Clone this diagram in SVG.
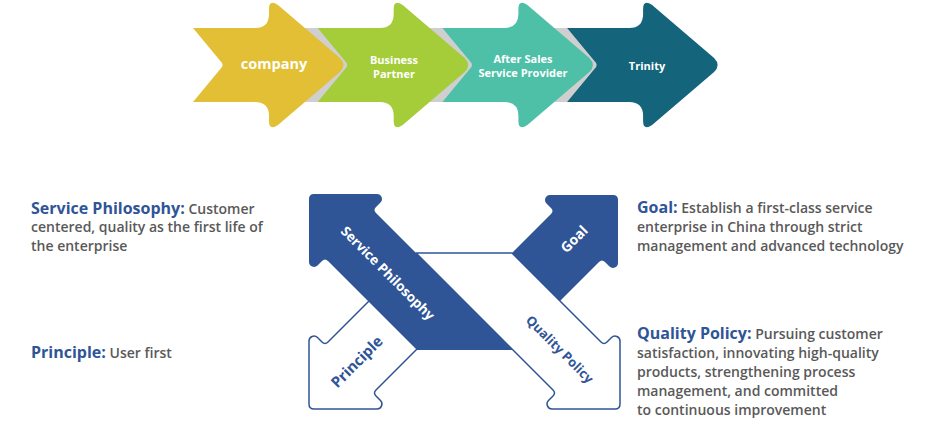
<svg xmlns="http://www.w3.org/2000/svg" width="940" height="436" viewBox="0 0 940 436">
<defs>
<style>
.lbl{font-family:"Open Sans","Noto Sans","Liberation Sans",sans-serif;font-weight:700;fill:#ffffff;text-anchor:middle}
.dark{fill:#2F5597}
.light{fill:#ffffff;stroke:#2F5597;stroke-width:1.5;stroke-linejoin:round}
.h{font-family:"Open Sans","Noto Sans","Liberation Sans",sans-serif;font-weight:700;font-size:16px;fill:#2F5597}
.b{font-family:"Open Sans","Noto Sans","Liberation Sans",sans-serif;font-weight:600;font-size:14px;fill:#595959}
.al{font-family:"Open Sans","Noto Sans","Liberation Sans",sans-serif;font-weight:700;text-anchor:middle}
</style>
<path id="chev" d="M0,28 L62,28 Q76,28 76,14 L76,9 Q76,-1 85,5 L147,58 Q154,65 147,72 L85,125 Q76,131 76,121 L76,116 Q76,102 62,102 L0,102 L29,67 Q30,65 29,63 Z"/>
</defs>

<rect x="280" y="28" width="320" height="74" fill="#CFCFCF"/>

<g id="node-company">
<use href="#chev" x="193" fill="#E3BF36"/>
<text class="lbl" x="274" y="69" font-size="14.5">company</text>
</g>
<g id="node-business-partner">
<use href="#chev" x="317.7" fill="#A4CD39"/>
<text class="lbl" x="394" y="64" font-size="11">Business</text>
<text class="lbl" x="394" y="78" font-size="11">Partner</text>
</g>
<g id="node-after-sales">
<use href="#chev" x="442.4" fill="#4EC0A7"/>
<text class="lbl" x="523" y="63" font-size="11">After Sales</text>
<text class="lbl" x="523" y="77" font-size="11">Service Provider</text>
</g>
<g id="node-trinity">
<use href="#chev" x="567.1" fill="#14647C"/>
<text class="lbl" x="647" y="70" font-size="11">Trinity</text>
</g>

<g id="node-goal-arrow">
<path class="dark" transform="translate(618,195) scale(-1,1)" d="M203,155 L67,19 Q64,16 67,13 L71.5,8.5 A5,5 0 0 0 68,0 L5,0 Q0,0 0,5 L0,68 A5,5 0 0 0 8.5,71.5 L13,67 Q16,64 19,67 L107,155 Z"/>
<text class="al" fill="#ffffff" font-size="14" transform="translate(574,239) rotate(-45)" y="5">Goal</text>
</g>
<g id="node-principle-arrow">
<path class="light" transform="translate(309,409) scale(1,-1)" d="M131.5,83.5 L67,19 Q64,16 67,13 L71.5,8.5 A5,5 0 0 0 68,0 L5,0 Q0,0 0,5 L0,68 A5,5 0 0 0 8.5,71.5 L13,67 Q16,64 19,67 L83.5,131.5 Z"/>
<text class="al" fill="#2F5597" font-size="15" transform="translate(357,362) rotate(-45)" y="5">Principle</text>
</g>
<g id="node-service-philosophy-arrow">
<path class="dark" transform="translate(309,194)" d="M204,156 L67,19 Q64,16 67,13 L71.5,8.5 A5,5 0 0 0 68,0 L5,0 Q0,0 0,5 L0,68 A5,5 0 0 0 8.5,71.5 L13,67 Q16,64 19,67 L108,156 Z"/>
<text class="al" fill="#ffffff" font-size="13.5" transform="translate(388,273) rotate(45)" y="5">Service Philosophy</text>
</g>
<g id="node-quality-policy-arrow">
<path class="light" transform="translate(620,409) scale(-1,-1)" d="M204,156 L67,19 Q64,16 67,13 L71.5,8.5 A5,5 0 0 0 68,0 L5,0 Q0,0 0,5 L0,68 A5,5 0 0 0 8.5,71.5 L13,67 Q16,64 19,67 L108,156 Z"/>
<text class="al" fill="#2F5597" font-size="13" transform="translate(560,349) rotate(45)" y="5">Quality Policy</text>
</g>

<g id="text-service-philosophy">
<text x="31" y="214"><tspan class="h">Service Philosophy:</tspan><tspan class="b"> Customer</tspan></text>
<text class="b" x="31" y="232">centered, quality as the first life of</text>
<text class="b" x="31" y="251">the enterprise</text>
</g>
<g id="text-principle">
<text x="31" y="358"><tspan class="h">Principle:</tspan><tspan class="b"> User first</tspan></text>
</g>
<g id="text-goal">
<text x="637" y="213"><tspan class="h">Goal:</tspan><tspan class="b"> Establish a first-class service</tspan></text>
<text class="b" x="637" y="231.5">enterprise in China through strict</text>
<text class="b" x="637" y="250.5">management and advanced technology</text>
</g>
<g id="text-quality-policy">
<text x="637" y="339"><tspan class="h">Quality Policy:</tspan><tspan class="b"> Pursuing customer</tspan></text>
<text class="b" x="637" y="357.5">satisfaction, innovating high-quality</text>
<text class="b" x="637" y="376.5">products, strengthening process</text>
<text class="b" x="637" y="395.5">management, and committed</text>
<text class="b" x="637" y="415">to continuous improvement</text>
</g>
</svg>
